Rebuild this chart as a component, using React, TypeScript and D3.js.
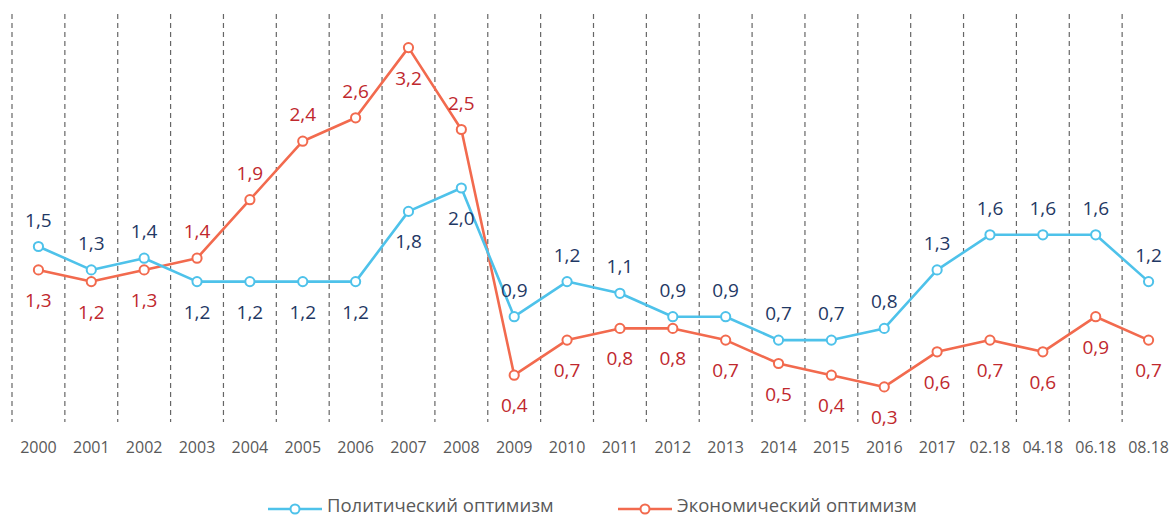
import React from 'react'
import * as d3 from 'd3'

const categories = ['2000', '2001', '2002', '2003', '2004', '2005', '2006', '2007', '2008', '2009', '2010',
  '2011', '2012', '2013', '2014', '2015', '2016', '2017', '02.18', '04.18', '06.18', '08.18']
const political = [1.5, 1.3, 1.4, 1.2, 1.2, 1.2, 1.2, 1.8, 2.0, 0.9, 1.2, 1.1, 0.9, 0.9, 0.7, 0.7, 0.8, 1.3, 1.6, 1.6, 1.6, 1.2]
const economic = [1.3, 1.2, 1.3, 1.4, 1.9, 2.4, 2.6, 3.2, 2.5, 0.4, 0.7, 0.8, 0.8, 0.7, 0.5, 0.4, 0.3, 0.6, 0.7, 0.6, 0.9, 0.7]
// where each value label sits: a = above point, b = below
const politicalSide = 'aaabbbbbbaaaaaaaaaaaaa'
const economicSide = 'bbbaaaabab' + 'bbbbbbbbbbbb'

const W = 1173, H = 517
const font = '"Open Sans", "Noto Sans", sans-serif'
const blue = '#4ec2ea', red = '#f26a4e'
const blueText = '#1f3864', redText = '#c0282e'

const x = d3.scalePoint<string>().domain(categories).range([12, 1175]).padding(0.5)
const band = d3.scaleBand<string>().domain(categories).range([12, 1175])
const y = d3.scaleLinear().domain([0, 3.5]).range([422, 12.5])

const fmt = (v: number) => v.toFixed(1).replace('.', ',')

function Series({values, sides, color, textColor}: {values: number[], sides: string, color: string, textColor: string}) {
  const line = d3.line<number>().x((_, i) => x(categories[i])!).y(d => y(d))
  return (
    <g>
      <path d={line(values)!} fill="none" stroke={color} strokeWidth={2.6} strokeLinejoin="round" />
      {values.map((v, i) => (
        <circle key={i} cx={x(categories[i])} cy={y(v)} r={4.6} fill="#fff" stroke={color} strokeWidth={2} />
      ))}
      {values.map((v, i) => (
        <text key={'t' + i} x={x(categories[i])} y={y(v) + (sides[i] === 'a' ? -27 : 30)}
          textAnchor="middle" dominantBaseline="central" fontFamily={font} fontSize={19} fill={textColor}>
          {fmt(v)}
        </text>
      ))}
    </g>
  )
}

export default function App() {
  const bounds = [...categories.map(c => band(c)!), 1175]
  const legend = [
    {label: 'Политический оптимизм', color: blue, x0: 268},
    {label: 'Экономический оптимизм', color: red, x0: 618},
  ]
  return (
    <svg width={W} height={H} style={{position: 'absolute', left: 0, top: 0, background: '#fff'}}>
      {bounds.map((b, i) => (
        <line key={i} x1={b} x2={b} y1={14} y2={422} stroke="#666" strokeWidth={1.2} strokeDasharray="5,4" />
      ))}
      {categories.map(c => (
        <text key={c} x={x(c)} y={447} textAnchor="middle" dominantBaseline="central"
          fontFamily={font} fontSize={16} fill="#595959">{c}</text>
      ))}
      <Series values={economic} sides={economicSide} color={red} textColor={redText} />
      <Series values={political} sides={politicalSide} color={blue} textColor={blueText} />
      {legend.map(l => (
        <g key={l.label}>
          <line x1={l.x0} x2={l.x0 + 54} y1={509} y2={509} stroke={l.color} strokeWidth={2.6} />
          <circle cx={l.x0 + 27} cy={509} r={4.5} fill="#fff" stroke={l.color} strokeWidth={2} />
          <text x={l.x0 + 59} y={512} fontFamily={font} fontSize={18.5} fill="#595959">{l.label}</text>
        </g>
      ))}
    </svg>
  )
}
